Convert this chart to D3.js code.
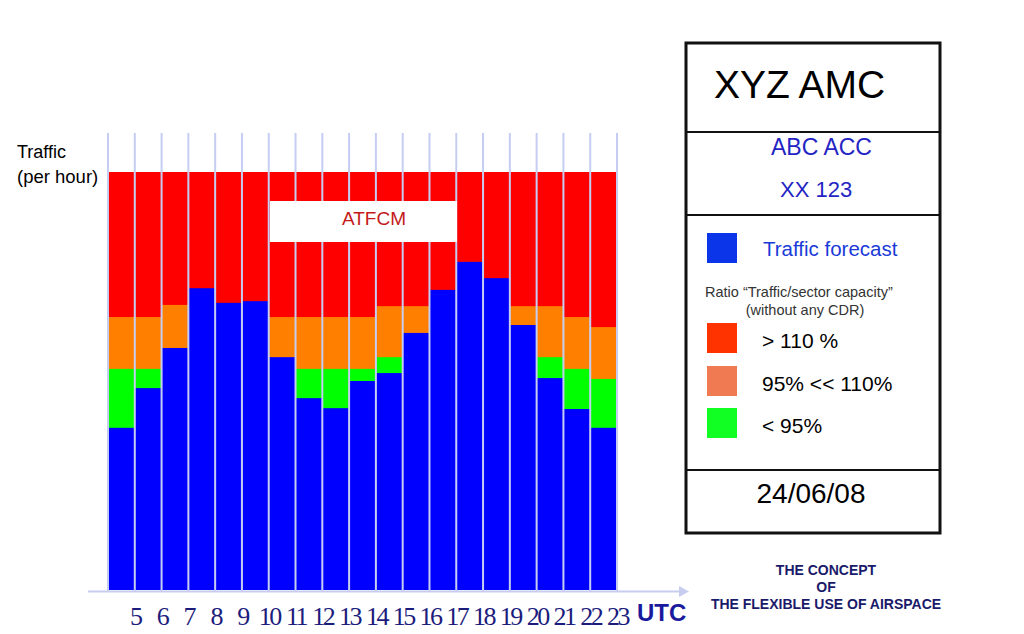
<!DOCTYPE html>
<html>
<head>
<meta charset="utf-8">
<script src="https://cdn.jsdelivr.net/npm/d3@7/dist/d3.min.js"></script>
<style>
  html, body { margin: 0; padding: 0; background: #fff; }
  svg { display: block; font-family: "Liberation Sans", Arial, sans-serif; }
</style>
</head>
<body>
<svg id="chart" width="1024" height="634"></svg>
<script>
// ---- data ----
const hours = [5, 6, 7, 8, 9, 10, 11, 12, 13, 14, 15, 16, 17, 18, 19, 20, 21, 22, 23];
// traffic forecast per hour (blue)
const traffic = [38.8, 48.3, 57.9, 72.2, 68.7, 69.1, 55.7, 45.9, 43.5, 50.0, 51.9, 61.5, 71.8, 78.5, 74.6, 63.4, 50.7, 43.3, 38.8];
// level of 95% sector capacity (top of green band)
const level95 = [52.9, 52.9, 52.9, 52.9, 52.9, 52.9, 52.9, 52.9, 52.9, 52.9, 55.7, 55.7, 55.7, 55.7, 55.7, 55.7, 55.7, 52.9, 50.5];
// level of 110% sector capacity (top of orange band)
const level110 = [65.3, 65.3, 68.2, 68.2, 68.2, 68.2, 65.3, 65.3, 65.3, 65.3, 67.9, 67.9, 67.9, 67.9, 67.9, 67.9, 67.9, 65.3, 62.9];
// top of the displayed scale (top of red band)
const scaleTop = [100];
const hourLabels = hours.map(String);

const legendItems = [
  { label: "> 110 %", color: "#ff3300" },
  { label: "95% << 110%", color: "#f07a52" },
  { label: "< 95%", color: "#11ff22" }
];

// ---- drawing ----
const svg = d3.select("#chart");
const x = d3.scaleBand().domain(hours).range([108, 617]).padding(0);
const y = d3.scaleLinear().domain([0, scaleTop[0]]).range([590, 172]);
const xEnd = d3.scaleLinear().domain([hours[0] - 1, hours[hours.length - 1]]).range([108, 617]);

const rows = hours.map((h, i) => ({ h, t: traffic[i], g: level95[i], o: level110[i] }));

const layers = [
  { key: "top", color: "#ff0000", val: () => scaleTop[0] },
  { key: "o", color: "#ff8000", val: d => d.o },
  { key: "g", color: "#00ff00", val: d => d.g },
  { key: "t", color: "#0000ff", val: d => d.t }
];

layers.forEach(L => {
  svg.append("g").selectAll("rect").data(rows).join("rect")
    .attr("x", d => x(d.h))
    .attr("width", x.bandwidth())
    .attr("y", d => y(L.val(d)))
    .attr("height", d => y(0) - y(L.val(d)))
    .attr("fill", L.color);
});

// vertical grid lines at the hour boundaries
const bounds = [hours[0] - 1].concat(hours);
svg.append("g").selectAll("line").data(bounds).join("line")
  .attr("x1", d => xEnd(d)).attr("x2", d => xEnd(d))
  .attr("y1", 133).attr("y2", 591)
  .attr("stroke", "#c6cdf2").attr("stroke-width", 2);

// x axis line with arrow
svg.append("line").attr("x1", 88).attr("x2", 681).attr("y1", 591.5).attr("y2", 591.5)
  .attr("stroke", "#c8cdef").attr("stroke-width", 2);
svg.append("path").attr("d", "M679,586 L689,591.5 L679,597 Z").attr("fill", "#c8cdef");

// x axis labels
const axis = d3.axisBottom(xEnd).tickValues(hours).tickSize(0).tickFormat((d, i) => hourLabels[i]);
const ax = svg.append("g").attr("transform", "translate(0,600)").call(axis);
ax.select(".domain").remove();
ax.selectAll("text")
  .attr("y", 0).attr("dy", "25px")
  .attr("font-family", "'Liberation Serif', 'Times New Roman', serif")
  .attr("font-size", 26).attr("letter-spacing", "-2.5")
  .attr("fill", "#1c1c7c");

svg.append("text").attr("x", 637).attr("y", 621).text("UTC")
  .attr("font-weight", "bold").attr("font-size", 24).attr("fill", "#1a1a9c");

// y label
svg.append("text").attr("x", 17).attr("y", 158).text("Traffic").attr("font-size", 18).attr("fill", "#000");
svg.append("text").attr("x", 17).attr("y", 183).text("(per hour)").attr("font-size", 18.5).attr("fill", "#000");

// ATFCM box
svg.append("rect").attr("x", 270).attr("y", 201).attr("width", 187).attr("height", 41).attr("fill", "#fff");
svg.append("text").attr("x", 374).attr("y", 225).attr("text-anchor", "middle").text("ATFCM")
  .attr("font-size", 19).attr("fill", "#c41a1a");

// legend panel
const P = svg.append("g");
P.append("rect").attr("x", 686).attr("y", 43).attr("width", 254).attr("height", 490)
  .attr("fill", "#fff").attr("stroke", "#111").attr("stroke-width", 3);
[132, 215, 470].forEach(yy => P.append("line").attr("x1", 686).attr("x2", 940).attr("y1", yy).attr("y2", yy)
  .attr("stroke", "#111").attr("stroke-width", 2));

P.append("text").attr("x", 714).attr("y", 98).text("XYZ AMC").attr("font-size", 39).attr("fill", "#000");
P.append("text").attr("x", 771).attr("y", 155).text("ABC ACC").attr("font-size", 23).attr("fill", "#2424c4");
P.append("text").attr("x", 780).attr("y", 197).text("XX 123").attr("font-size", 22).attr("fill", "#2424c4");

P.append("rect").attr("x", 707).attr("y", 233).attr("width", 30).attr("height", 30).attr("fill", "#0a35e8");
P.append("text").attr("x", 763).attr("y", 256).text("Traffic forecast").attr("font-size", 20.5).attr("fill", "#1a3ad8");

P.append("text").attr("x", 705).attr("y", 297).text("Ratio “Traffic/sector capacity”").attr("font-size", 14.5).attr("fill", "#333");
P.append("text").attr("x", 805).attr("y", 315).attr("text-anchor", "middle").text("(without any CDR)").attr("font-size", 14.5).attr("fill", "#333");

const legY = [323, 366, 408];
const leg = P.append("g").selectAll("g").data(legendItems).join("g")
  .attr("transform", (d, i) => `translate(707,${legY[i]})`);
leg.append("rect").attr("width", 30).attr("height", 30).attr("fill", d => d.color);
leg.append("text").attr("x", 55).attr("y", 25).text(d => d.label).attr("font-size", 21).attr("fill", "#000");

P.append("text").attr("x", 811).attr("y", 503).attr("text-anchor", "middle").text("24/06/08").attr("font-size", 28).attr("fill", "#000");

// footer
const foot = ["THE CONCEPT", "OF", "THE FLEXIBLE USE OF AIRSPACE"];
svg.append("g").selectAll("text").data(foot).join("text")
  .attr("x", 826).attr("y", (d, i) => 575 + i * 17).attr("text-anchor", "middle")
  .text(d => d).attr("font-weight", "bold").attr("font-size", 14).attr("fill", "#1a1a6a");
</script>
</body>
</html>
